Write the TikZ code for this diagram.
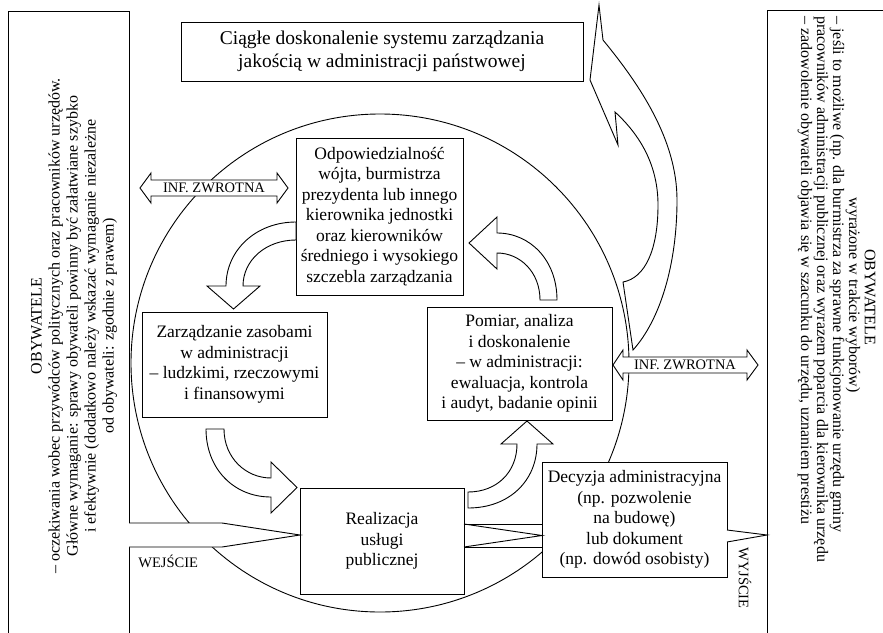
\documentclass[tikz,border=0pt]{standalone}
\usepackage{fontspec}
\setmainfont{Liberation Serif}
\begin{document}
\begin{tikzpicture}[x=1pt,y=-1pt, line width=0.9pt,
  box/.style={draw, fill=white, align=center, inner sep=0pt, font=\fontsize{17.5}{20.5}\selectfont},
  blk/.style={draw, fill=white, line join=miter},
  small/.style={font=\fontsize{14.5}{17}\selectfont, inner sep=0pt},
  panel/.style={font=\fontsize{16}{18}\selectfont, inner sep=0pt}]
\useasboundingbox (0,0) rectangle (883,632);
\fill[white] (0,0) rectangle (883,632);

% panels
\draw (8,640) -- (8,11) -- (129,11) -- (129,640);
\draw (893,10) -- (767,10) -- (767,640);

\node[panel, rotate=90, align=center] (citL) at (74,326) {OBYWATELE\\
– oczekiwania wobec przywódców politycznych oraz pracowników urzędów.\\
Główne wymaganie: sprawy obywateli powinny być załatwiane szybko\\
i efektywnie (dodatkowo należy wskazać wymaganie niezależne\\
od obywateli: zgodnie z prawem)};

\node[panel, rotate=-90, anchor=west] (r1) at (805,16) {– zadowolenie obywateli objawia się w szacunku do urzędu, uznaniem prestiżu};
\node[panel, rotate=-90, anchor=west] (r2) at (821,16) {pracowników administracji publicznej oraz wyrazem poparcia dla kierownika urzędu};
\node[panel, rotate=-90, anchor=west] (r3) at (837,16) {– jeśli to możliwe (np. dla burmistrza za sprawne funkcjonowanie urzędu gminy};
\node[panel, rotate=-90] (r4) at (853,295) {wyrażone w trakcie wyborów)};
\node[panel, rotate=-90] (r5) at (870,297) {OBYWATELE};

% big circle
\draw (380,363) circle [radius=249pt];

% top box
\node[box, minimum width=402pt, minimum height=59pt, font=\fontsize{19.5}{23}\selectfont] (top) at (382,51.5) {Ciągłe doskonalenie systemu zarządzania\\jakością w administracji państwowej};

% big curved arrow
\draw[blk] (599,5) -- (603,40)
  .. controls (640,85) and (677,140) .. (677,200)
  .. controls (677,265) and (660,320) .. (633,350)
  -- (623,282)
  .. controls (645,278) and (658,250) .. (658,205)
  .. controls (658,165) and (640,135) .. (615,112)
  -- (618,145) -- (590,80) -- cycle;

% boxes
\node[box, minimum width=167pt, minimum height=157pt] (odp) at (379.5,216.5) {Odpowiedzialność\\wójta, burmistrza\\prezydenta lub innego\\kierownika jednostki\\oraz kierowników\\średniego i wysokiego\\szczebla zarządzania};
\node[box, minimum width=185pt, minimum height=105pt] (zarz) at (234.5,364.5) {Zarządzanie zasobami\\w administracji\\– ludzkimi, rzeczowymi\\i finansowymi};
\node[box, minimum width=185pt, minimum height=113pt] (pom) at (519.5,363.5) {Pomiar, analiza\\i doskonalenie\\– w administracji:\\ewaluacja, kontrola\\i audyt, badanie opinii};
\node[box, minimum width=164pt, minimum height=106pt] (real) at (382,541) {Realizacja\\usługi\\publicznej};
\node[box, minimum width=185pt, minimum height=115pt] (dec) at (634.5,519.5) {Decyzja administracyjna\\(np. pozwolenie\\na budowę)\\lub dokument\\(np. dowód osobisty)};

% curved block arrows
\draw[blk] (296,222) .. controls (256,222) and (226,250) .. (226,286) -- (207,286) -- (233.5,309) -- (260,286) -- (243,286) .. controls (243,260) and (266,240) .. (296,240) -- cycle;
\draw[blk] (206,429) .. controls (206,468) and (233,497) .. (271,497) -- (271,513) -- (297,487.5) -- (271,462) -- (271,478) .. controls (246,478) and (224,458) .. (224,429) -- cycle;
\draw[blk] (468,508) .. controls (510,508) and (537,480) .. (537,444) -- (553,444) -- (527,421) -- (501,444) -- (517,444) .. controls (517,472) and (497,492) .. (468,492) -- cycle;
\draw[blk] (557,300) .. controls (557,260) and (530,233) .. (497,233) -- (497,217) -- (469,243) -- (497,269) -- (497,253) .. controls (520,253) and (540,272) .. (540,300) -- cycle;

% feedback double arrows
\draw[blk] (140,188) -- (151,173) -- (151,180) -- (277,180) -- (277,173) -- (288,188) -- (277,203) -- (277,196) -- (151,196) -- (151,203) -- cycle;
\node[small] (infL) at (214,188) {INF. ZWROTNA};
\draw[blk] (613,365) -- (623,350) -- (623,357) -- (747,357) -- (747,350) -- (758,365) -- (747,380) -- (747,373) -- (623,373) -- (623,380) -- cycle;
\node[small] (infR) at (685,365) {INF. ZWROTNA};

% input / output bands
\draw[blk] (129,523) -- (222,523) -- (300,535) -- (222,547) -- (129,547);
\node[small, anchor=west] (we) at (138,561) {WEJŚCIE};
\draw[blk] (464,524) rectangle (542,547);
\draw (464,524) -- (542,535.5) -- (464,547);
\draw[blk] (727,530) -- (767,535) -- (727,542);
\node[small, rotate=-90] (wy) at (745,578) {WYJŚCIE};
\end{tikzpicture}
\end{document}
